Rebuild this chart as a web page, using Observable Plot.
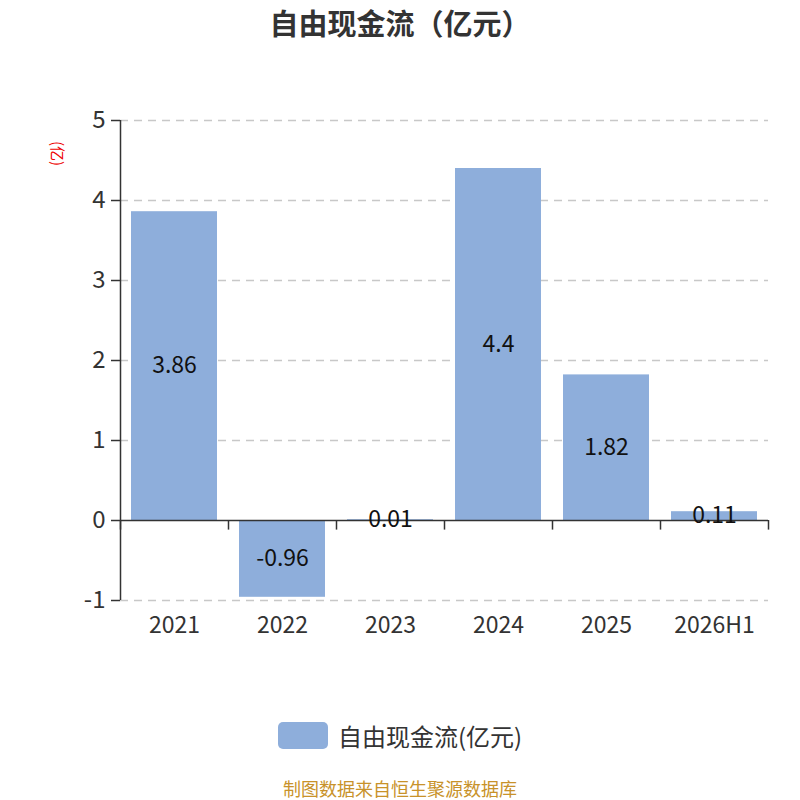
<!DOCTYPE html>
<html><head><meta charset="utf-8">
<script src="https://cdn.jsdelivr.net/npm/d3@7"></script>
<script src="https://cdn.jsdelivr.net/npm/@observablehq/plot@0.6"></script>
<style>
body{margin:0;background:#fff;font-family:"Noto Sans CJK SC","Noto Sans",sans-serif;}
#wrap{position:relative;width:800px;height:800px;overflow:hidden;}
#wrap svg{position:absolute;left:0;top:0;}
.ov{position:absolute;white-space:nowrap;}
</style></head>
<body><div id="wrap">
<div class="ov" id="title" style="left:0;width:800px;top:2px;text-align:center;font-size:29px;font-weight:bold;color:#333;line-height:40px;">自由现金流（亿元）</div>
<div class="ov" id="unit" style="left:46px;top:143px;font-size:15px;color:#e00;transform:rotate(90deg);transform-origin:center;">(亿)</div>
<div class="ov" id="legend" style="left:278px;top:720px;height:30px;display:flex;align-items:center;">
  <span style="display:inline-block;width:50px;height:27px;border-radius:5px;background:#8eaedb;"></span>
  <span style="margin-left:10px;font-size:24px;color:#333;">自由现金流(亿元)</span>
</div>
<div class="ov" id="foot" style="left:0;width:800px;top:778px;text-align:center;font-size:18px;color:#c8922a;line-height:21px;">制图数据来自恒生聚源数据库</div>
</div>
<script>
const categories = ["2021","2022","2023","2024","2025","2026H1"];
const values = [3.86, -0.96, 0.01, 4.4, 1.82, 0.11];
const labels = ["3.86","-0.96","0.01","4.4","1.82","0.11"];
const yTicks = [-1,0,1,2,3,4,5];

const data = categories.map((c,i)=>({cat:c, v:values[i], label:labels[i]}));
const W=800,H=800,ML=120,MR=32,MT=120,MB=200;
const half=(W-ML-MR)/categories.length/2;
const fontFam='"Noto Sans CJK SC","Noto Sans",sans-serif';

const chart = Plot.plot({
  width:W, height:H, marginLeft:ML, marginRight:MR, marginTop:MT, marginBottom:MB,
  style:{fontFamily:fontFam, background:"transparent"},
  x:{domain:categories, padding:0, label:null},
  y:{domain:[-1,5], label:null, ticks:yTicks},
  marks:[
    Plot.gridY(yTicks.filter(t=>t!==0), {stroke:"#c8c8c8", strokeOpacity:1, strokeWidth:1.3, strokeDasharray:"8,6"}),
    Plot.barY(data, {x:"cat", y:"v", fill:"#8eaedb", insetLeft:11, insetRight:11}),
    Plot.ruleY([0], {stroke:"#333", strokeWidth:1.5}),
    Plot.ruleX(categories, {x:d=>d, y1:0, y2:-0.12, dx:-half, stroke:"#333", strokeWidth:1.5}),
    Plot.ruleX([categories[categories.length-1]], {x:d=>d, y1:0, y2:-0.12, dx:half, stroke:"#333", strokeWidth:1.5}),
    Plot.ruleX([categories[0]], {x:d=>d, y1:-1, y2:5, dx:-half, stroke:"#333", strokeWidth:1.5}),
    Plot.axisY({ticks:yTicks, tickFormat:d=>String(d), tickSize:9, tickPadding:6, fontSize:24, fill:"#333", stroke:"#333", strokeWidth:1.5, label:null}),
    Plot.axisX({tickSize:0, tickPadding:16, fontSize:23, fill:"#333", label:null}),
    Plot.text(data, {x:"cat", y:d=>d.v/2, text:"label", fontSize:23, fill:"#111"})
  ]
});
document.getElementById("wrap").prepend(chart);
</script>
</body></html>
